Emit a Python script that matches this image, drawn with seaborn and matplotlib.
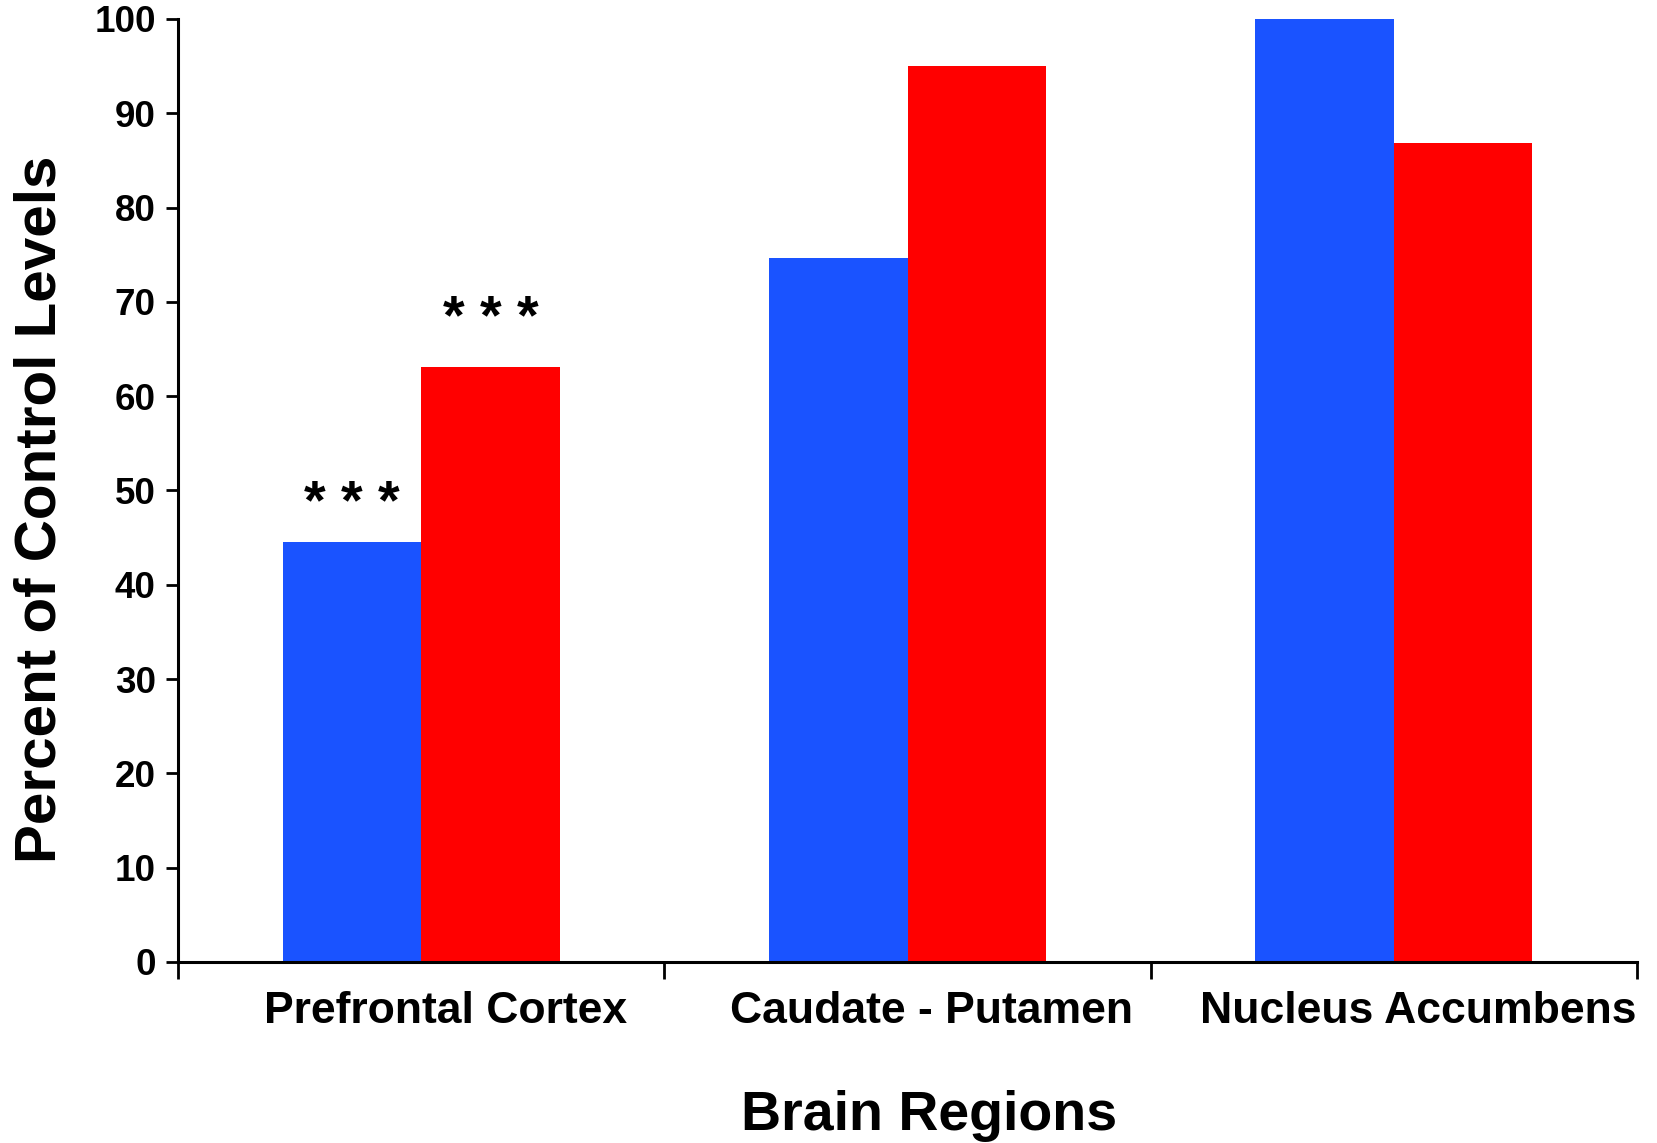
import matplotlib
matplotlib.use("Agg")
import matplotlib.pyplot as plt
import matplotlib.transforms as mtransforms
import seaborn as sns
import pandas as pd

regions = ["Prefrontal Cortex", "Caudate - Putamen", "Nucleus Accumbens"]
groups = ["Group 1", "Group 2"]
group1_values = [44.5, 74.6, 100.0]
group2_values = [63.1, 95.0, 86.9]
significance = [["* * *", "* * *"], ["", ""], ["", ""]]
y_ticks = [0, 10, 20, 30, 40, 50, 60, 70, 80, 90, 100]

colors = {"Group 1": "#1A53FF", "Group 2": "#FF0000"}

df = pd.DataFrame({
    "region": regions * 2,
    "group": [groups[0]] * 3 + [groups[1]] * 3,
    "percent": group1_values + group2_values,
})

sns.set_style("white")
plt.rcParams["font.family"] = ["Liberation Sans", "DejaVu Sans"]
plt.rcParams["font.weight"] = "bold"
plt.rcParams["text.color"] = "black"
plt.rcParams["axes.labelcolor"] = "black"
plt.rcParams["xtick.color"] = "black"
plt.rcParams["ytick.color"] = "black"

fig = plt.figure(figsize=(16.58, 11.43), dpi=100)
ax = fig.add_axes([0.1074, 0.1584, 0.8799, 0.825])

sns.barplot(data=df, x="region", y="percent", hue="group", order=regions,
            hue_order=groups, palette=colors, width=0.57, saturation=1,
            dodge=True, legend=False, ax=ax, linewidth=0)

# significance markers above bars
bar_w = 0.57 / 2
star_offsets = [4.0, 5.0]
for i, region in enumerate(regions):
    for j, g in enumerate(groups):
        txt = significance[i][j]
        if txt:
            val = (group1_values if j == 0 else group2_values)[i]
            xc = i - bar_w / 2 + j * bar_w
            ax.text(xc, val + star_offsets[j], txt, ha="center", va="center",
                    fontsize=40, fontweight="bold", color="black")

ax.set_xlim(-0.5, 2.5)
ax.set_ylim(0, 100)
ax.set_yticks(y_ticks)
ax.set_yticklabels([str(t) for t in y_ticks], fontsize=26.5, fontweight="bold")

ax.set_xticks([-0.5, 0.5, 1.5, 2.5])
ax.set_xticklabels([])
ax.set_xticks([0, 1, 2], minor=True)
ax.set_xticklabels(regions, minor=True, fontsize=32, fontweight="bold")
ax.tick_params(axis="x", which="minor", bottom=True, length=0, pad=21, labelcolor="black")
ax.tick_params(axis="x", which="major", bottom=True, length=12, width=2, direction="out", color="black")
ax.tick_params(axis="y", which="major", left=True, length=9, width=2, direction="out", color="black", pad=7, labelcolor="black")

offset = mtransforms.ScaledTranslation(0.24, 0, fig.dpi_scale_trans)
for lbl in ax.get_xticklabels(minor=True):
    lbl.set_transform(lbl.get_transform() + offset)

for side in ["top", "right"]:
    ax.spines[side].set_visible(False)
for side in ["left", "bottom"]:
    ax.spines[side].set_color("black")
    ax.spines[side].set_linewidth(2.2)

ax.set_xlabel("Brain Regions", fontsize=40, fontweight="bold", va="center", color="black")
ax.xaxis.set_label_coords(0.5147, -0.163)
ax.set_ylabel("Percent of Control Levels", fontsize=42, fontweight="bold", va="center", color="black")
ax.yaxis.set_label_coords(-0.0946, 0.480)

fig.savefig("out.png", dpi=100)
